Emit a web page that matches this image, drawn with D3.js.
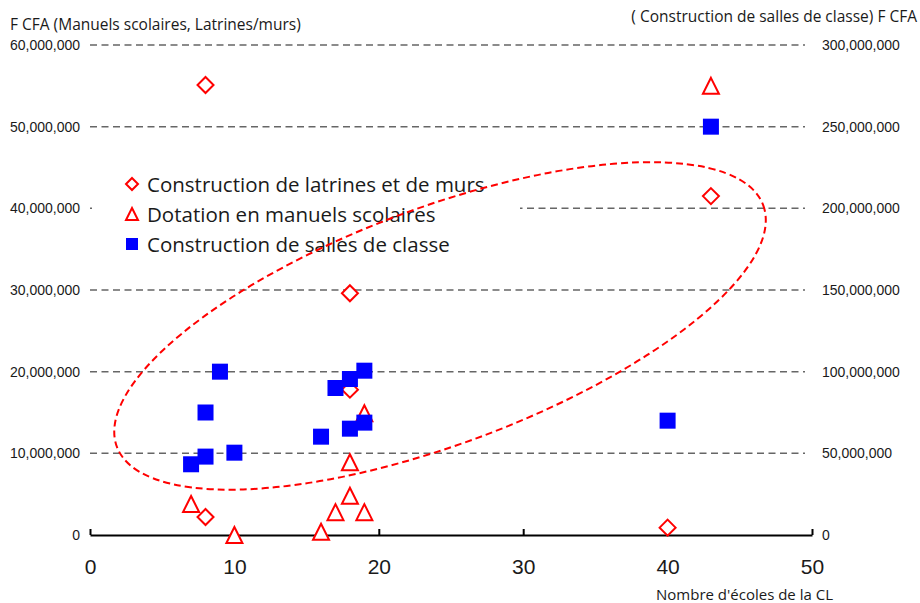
<!DOCTYPE html>
<html>
<head>
<meta charset="utf-8">
<script src="https://cdn.jsdelivr.net/npm/d3@7"></script>
<style>
  body { margin: 0; background: #fff; }
  svg text { font-family: "Liberation Sans", Arial, sans-serif; fill: #1a1a1a; }
  svg text.label { font-family: "Open Sans", "Liberation Sans", sans-serif; }
</style>
</head>
<body>
<svg id="chart" width="920" height="603"></svg>
<script>
// values in F CFA, x = nombre d'écoles de la CL
const latrinesX = [8, 43, 18, 18, 8, 40];
const latrinesY = [55.1e6, 41.5e6, 29.6e6, 17.8e6, 2.2e6, 0.9e6];

const manuelsX = [43, 7, 10, 16, 17, 18, 18, 19, 19];
const manuelsY = [55e6, 3.8e6, 0, 0.4e6, 2.8e6, 4.8e6, 8.9e6, 2.8e6, 14.9e6];

const sallesX = [43, 40, 9, 8, 8, 7, 10, 16, 17, 18, 19, 18, 19];
const sallesY = [250e6, 70e6, 100e6, 75e6, 48e6, 43.3e6, 50.4e6, 60.2e6, 90e6, 95.5e6, 100.6e6, 65.1e6, 68.8e6];

const xTicks = [0, 10, 20, 30, 40, 50];
const leftTicks = [0, 10e6, 20e6, 30e6, 40e6, 50e6, 60e6];
const rightTicks = [0, 50e6, 100e6, 150e6, 200e6, 250e6, 300e6];

const legendLabels = ["Construction de latrines et de murs", "Dotation en manuels scolaires", "Construction de salles de classe"];

// ellipse annotation: centre in data units (x, left axis)
const ellipseCentre = [24.24, 25.6e6];

const svg = d3.select("#chart");
const x = d3.scaleLinear().domain([0, 50]).range([90, 812]);
const yL = d3.scaleLinear().domain([0, 60e6]).range([535, 45]);
const yR = d3.scaleLinear().domain([0, 300e6]).range([535, 45]);
const fmt = d3.format(",");

// gridlines
svg.append("g").selectAll("line")
  .data(leftTicks.filter(d => d > 0))
  .join("line")
  .attr("x1", x(0)).attr("x2", 805)
  .attr("y1", d => yL(d)).attr("y2", d => yL(d))
  .attr("stroke", "#666").attr("stroke-width", 1.5)
  .attr("stroke-dasharray", "7,4.5");

// legend box hides gridline behind it
svg.append("rect")
  .attr("x", 92).attr("y", 160).attr("width", 428).attr("height", 110)
  .attr("fill", "#fff");

// left axis
const gL = svg.append("g")
  .attr("transform", `translate(${x(0)},0)`)
  .call(d3.axisLeft(yL).tickValues(leftTicks).tickFormat(fmt).tickSize(0).tickPadding(10));
gL.select(".domain").remove();
gL.selectAll("text").style("font-size", "14px").attr("fill", "#1a1a1a");

// right axis
const gR = svg.append("g")
  .attr("transform", `translate(${x(50)},0)`)
  .call(d3.axisRight(yR).tickValues(rightTicks).tickFormat(fmt).tickSize(0).tickPadding(10));
gR.select(".domain").remove();
gR.selectAll("text").style("font-size", "14px").attr("fill", "#1a1a1a");

// x axis
const gX = svg.append("g")
  .attr("transform", `translate(0,${yL(0)})`)
  .call(d3.axisBottom(x).tickValues(xTicks).tickSizeInner(-6).tickSizeOuter(0).tickPadding(24));
gX.select(".domain").attr("stroke", "#000").attr("stroke-width", 2);
gX.selectAll(".tick line").attr("stroke", "#000").attr("stroke-width", 2);
gX.selectAll("text").style("font-size", "21px").attr("fill", "#1a1a1a");

// axis titles
svg.append("text").attr("class", "label").attr("x", 10).attr("y", 30)
  .style("font-size", "15.5px").text("F CFA (Manuels scolaires, Latrines/murs)");
svg.append("text").attr("class", "label").attr("x", 917).attr("y", 22).attr("text-anchor", "end")
  .style("font-size", "15.5px").text("( Construction de salles de classe) F CFA");
svg.append("text").attr("class", "label").attr("x", 656).attr("y", 600)
  .style("font-size", "15px").text("Nombre d'écoles de la CL");

// marker shapes
const diamond = s => `M0,${-s}L${s},0L0,${s}L${-s},0Z`;
const triangle = s => `M0,${-s}L${s},${s}L${-s},${s}Z`;

// legend
const legend = svg.append("g");
const rowY = [184, 214, 244];
legend.append("path").attr("d", diamond(6)).attr("transform", `translate(132,${rowY[0]})`)
  .attr("fill", "#fff").attr("stroke", "#f00").attr("stroke-width", 2);
legend.append("path").attr("d", triangle(6)).attr("transform", `translate(132,${rowY[1]})`)
  .attr("fill", "#fff").attr("stroke", "#f00").attr("stroke-width", 2);
legend.append("rect").attr("x", 126).attr("y", rowY[2] - 6).attr("width", 12).attr("height", 12)
  .attr("fill", "#00f");
legend.selectAll("text").data(legendLabels).join("text")
  .attr("class", "label")
  .attr("x", 147).attr("y", (d, i) => rowY[i] + 7.5)
  .style("font-size", "20.5px").text(d => d);

// ellipse annotation
svg.append("ellipse")
  .attr("cx", 0).attr("cy", 0).attr("rx", 345).attr("ry", 118)
  .attr("transform", `translate(${x(ellipseCentre[0])},${yL(ellipseCentre[1])}) rotate(-20.5)`)
  .attr("fill", "none").attr("stroke", "#f00").attr("stroke-width", 2)
  .attr("stroke-dasharray", "7,4");

// series
svg.append("g").selectAll("path")
  .data(latrinesX.map((d, i) => [d, latrinesY[i]]))
  .join("path")
  .attr("d", diamond(8))
  .attr("transform", d => `translate(${x(d[0])},${yL(d[1])})`)
  .attr("fill", "#fff").attr("stroke", "#f00").attr("stroke-width", 2);

svg.append("g").selectAll("path")
  .data(manuelsX.map((d, i) => [d, manuelsY[i]]))
  .join("path")
  .attr("d", triangle(8))
  .attr("transform", d => `translate(${x(d[0])},${yL(d[1])})`)
  .attr("fill", "#fff").attr("stroke", "#f00").attr("stroke-width", 2);

svg.append("g").selectAll("rect")
  .data(sallesX.map((d, i) => [d, sallesY[i]]))
  .join("rect")
  .attr("x", d => x(d[0]) - 8).attr("y", d => yR(d[1]) - 8)
  .attr("width", 16).attr("height", 16)
  .attr("fill", "#00f");
</script>
</body>
</html>
